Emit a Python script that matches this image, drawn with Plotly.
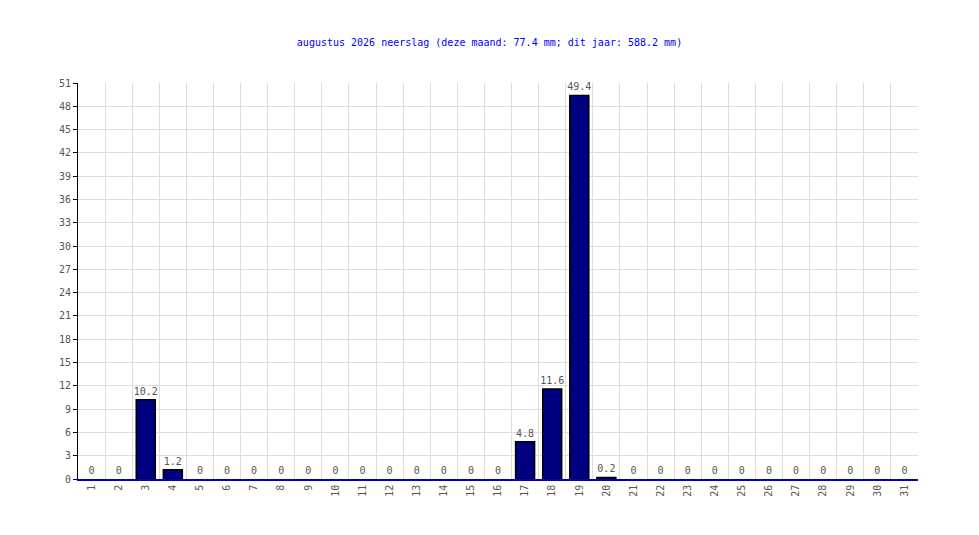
import plotly.graph_objects as go

days = list(range(1, 32))
rain = [0, 0, 10.2, 1.2, 0, 0, 0, 0, 0, 0, 0, 0, 0, 0, 0, 0, 4.8, 11.6, 49.4, 0.2,
        0, 0, 0, 0, 0, 0, 0, 0, 0, 0, 0]
title = "augustus 2026 neerslag (deze maand: 77.4 mm; dit jaar: 588.2 mm)"
yticks = list(range(0, 52, 3))

labels = [("%g" % v) for v in rain]
outline_w = [1.5 if v > 0 else 0 for v in rain]
FONT = "DejaVu Sans Mono"
lblfont = dict(family=FONT, size=10, color="#555555")

fig = go.Figure(go.Bar(
    x=days, y=rain, width=0.7,
    marker=dict(color="#000080", line=dict(color="#000000", width=outline_w)),
    text=labels, textposition="outside", cliponaxis=False, constraintext="none",
    textfont=lblfont, outsidetextfont=lblfont,
))

fig.update_layout(
    width=963, height=519,
    margin=dict(l=70, r=53, t=75, b=48),
    paper_bgcolor="white", plot_bgcolor="white",
    title=dict(text=title, x=0.5, xanchor="center", y=1 - 34 / 519, yanchor="middle",
               font=dict(family=FONT, size=10, color="#0000ff")),
    showlegend=False,
    font=dict(family=FONT, size=10, color="#555555"),
    xaxis=dict(range=[0.5, 31.5], tickvals=days, ticktext=[str(d) for d in days],
               tickangle=-90, showgrid=False, zeroline=False,
               showline=True, linecolor="#0000cc", linewidth=1.5,
               ticks="", ticklen=0, layer="above traces",
               minor=dict(tick0=0.5, dtick=1, showgrid=True, gridcolor="#dddddd", gridwidth=1),
               tickfont=dict(family=FONT, size=10, color="#555555")),
    yaxis=dict(range=[0, 51], tickvals=yticks, showgrid=True, gridcolor="#dddddd", gridwidth=1,
               zeroline=False, showline=True, linecolor="#000000", linewidth=1,
               ticks="outside", ticklen=4, tickcolor="#000000",
               tickfont=dict(family=FONT, size=10, color="#555555")),
)

fig.write_html("out.html")
